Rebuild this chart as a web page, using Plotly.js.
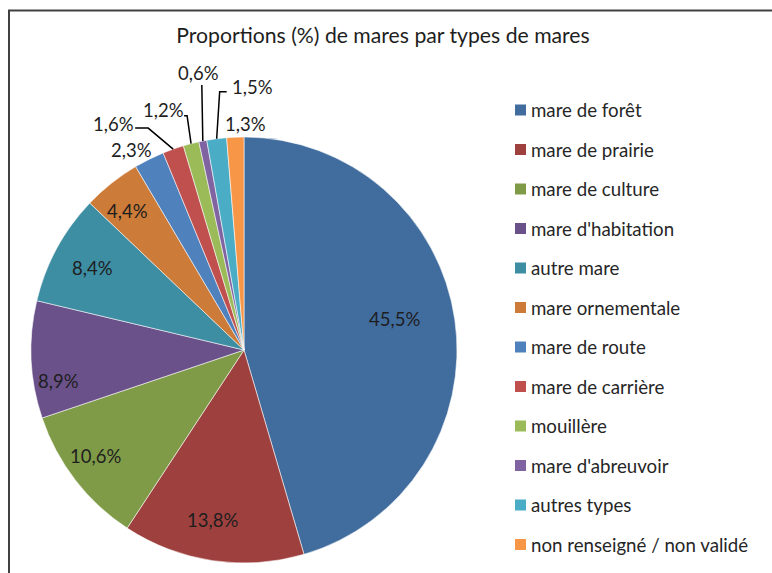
<!DOCTYPE html>
<html><head><meta charset="utf-8">
<script src="https://cdn.plot.ly/plotly-3.0.1.min.js"></script>
<style>html,body{margin:0;padding:0;background:#fff}#chart{width:772px;height:573px}</style>
</head><body><div id="chart"></div>
<script>
// ---- data ----
const categories = ["mare de forêt","mare de prairie","mare de culture","mare d'habitation","autre mare","mare ornementale","mare de route","mare de carrière","mouillère","mare d'abreuvoir","autres types","non renseigné / non validé"];
const values = [45.5,13.8,10.6,8.9,8.4,4.4,2.3,1.6,1.2,0.6,1.5,1.3];
const colors = ["#416C9E","#9E413E","#809B48","#6A518A","#3D8DA3","#CC7B38","#4F81BD","#C0504D","#9BBB59","#8064A2","#4BACC6","#F79646"];
const titleText = "Proportions (%) de mares par types de mares";

// ---- layout / style ----
const W = 772, H = 573;
const FONT = "Lato, 'Open Sans', sans-serif";
const TXT = "#1e1e1e";
const pie = {x0:31, x1:457, y0:137, y1:563};
const cx = (pie.x0+pie.x1)/2, cy = (pie.y0+pie.y1)/2, R = (pie.x1-pie.x0)/2;
const px = x => x/W, py = y => 1 - y/H;
// inside label placement: [radial fraction, angular shift in degrees (clockwise)]
const insidePos = {0:[0.72,-3.5], 1:[0.81,2], 2:[0.855,2.2], 3:[0.885,-6.9], 4:[0.81,0], 5:[0.85,-1.4]};
// outside labels: label offset and leader line points (pixel offsets from arc point)
const outside = {
  6:  {label:[-18,-9], line:null},
  7:  {label:[-60,-25], line:[[-25,-21],[-38,-21]]},
  8:  {label:[-28,-34], line:[[-4,-28],[-7,-28]]},
  9:  {label:[-4,-68], line:[[-1,-56]]},
  10: {label:[36,-52], line:[[3,-47],[10,-47]]},
  11: {label:[10,-13], line:null}
};
const LABEL_SIZE = 18.5, LEGEND_SIZE = 18.7, TITLE_SIZE = 21.2;

const fmt = v => v.toFixed(1).replace('.', ',') + '%';
const total = values.reduce((a,b)=>a+b,0);

const annotations = [], shapes = [];
let cum = 0;
values.forEach((v,i)=>{
  const mid = (cum + v/2)/total * 2*Math.PI;
  cum += v;
  if (insidePos[i] !== undefined) {
    const [f, d] = insidePos[i];
    const a = mid + d*Math.PI/180;
    annotations.push({x:px(cx + f*R*Math.sin(a)), y:py(cy - f*R*Math.cos(a)), xref:'paper', yref:'paper',
      text:fmt(v), showarrow:false, xanchor:'center', yanchor:'middle',
      font:{family:FONT, size:LABEL_SIZE, color:TXT}});
  } else {
    const o = outside[i];
    const ex = cx + R*Math.sin(mid), ey = cy - R*Math.cos(mid);
    annotations.push({x:px(ex+o.label[0]), y:py(ey+o.label[1]), xref:'paper', yref:'paper',
      text:fmt(v), showarrow:false, xanchor:'center', yanchor:'middle',
      font:{family:FONT, size:LABEL_SIZE, color:TXT}});
    if (o.line) {
      let p = `M ${px(ex)},${py(ey)}`;
      o.line.forEach(pt=>{ p += ` L ${px(ex+pt[0])},${py(ey+pt[1])}`; });
      shapes.push({type:'path', xref:'paper', yref:'paper', path:p, line:{color:'#000', width:1.5}});
    }
  }
});

// manual legend
categories.forEach((c,i)=>{
  const yc = 110 + i*39.5;
  shapes.push({type:'rect', xref:'paper', yref:'paper', x0:px(515), x1:px(526), y0:py(yc+5.5), y1:py(yc-5.5),
    fillcolor:colors[i], line:{width:0}});
  annotations.push({x:px(529), y:py(yc), xref:'paper', yref:'paper', text:c, showarrow:false,
    xanchor:'left', yanchor:'middle', font:{family:FONT, size:LEGEND_SIZE, color:'#262626'}});
});

// frame
shapes.push({type:'line', xref:'paper', yref:'paper', x0:px(8), x1:px(772), y0:py(10.5), y1:py(10.5), line:{color:'#404040', width:2}});
shapes.push({type:'line', xref:'paper', yref:'paper', x0:px(9), x1:px(9), y0:py(10), y1:py(573), line:{color:'#404040', width:2}});

const trace = {
  type:'pie', labels:categories, values:values, sort:false, direction:'clockwise', rotation:0,
  marker:{colors:colors, line:{color:'rgba(255,255,255,0.7)', width:0.8}},
  textinfo:'none', hoverinfo:'label+percent', showlegend:false,
  domain:{x:[px(pie.x0), px(pie.x1)], y:[py(pie.y1), py(pie.y0)]}
};

const layout = {
  width:W, height:H, margin:{l:0,r:0,t:0,b:0}, paper_bgcolor:'#fff', showlegend:false,
  separators:',.',
  title:{text:titleText, x:px(383), xanchor:'center', y:py(36), yanchor:'middle', font:{family:FONT, size:TITLE_SIZE, color:TXT}},
  annotations:annotations, shapes:shapes
};
Plotly.newPlot('chart', [trace], layout, {displayModeBar:false, staticPlot:true});
</script></body></html>
